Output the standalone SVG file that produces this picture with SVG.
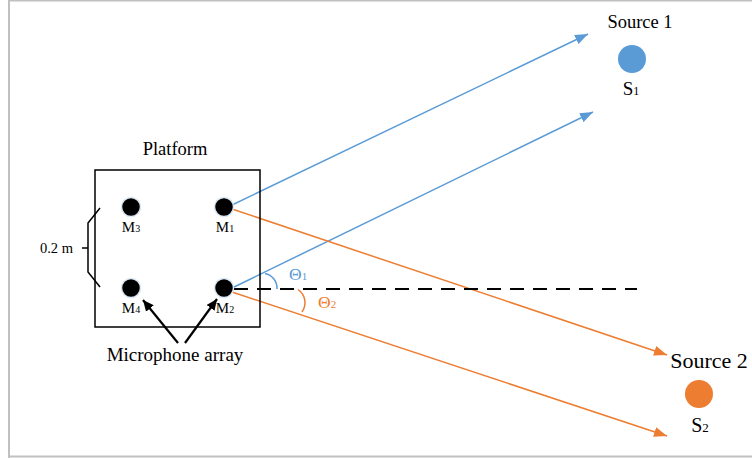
<svg xmlns="http://www.w3.org/2000/svg" width="752" height="458" viewBox="0 0 752 458">
<style>
.t{font-family:"Liberation Serif","Times New Roman",serif;fill:#000}
.blue{stroke:#5B9BD5;stroke-width:1.5;fill:none}
.orange{stroke:#ED7D31;stroke-width:1.5;fill:none}
.blk{stroke:#000;fill:none}
.mic{fill:#000;stroke:#dce8f5;stroke-width:1.5}
</style>
<defs>
<marker id="ab" markerUnits="userSpaceOnUse" markerWidth="14" markerHeight="10" refX="13" refY="5" orient="auto"><path d="M0,0 L13,5 L0,10 Z" fill="#5B9BD5"/></marker>
<marker id="ao" markerUnits="userSpaceOnUse" markerWidth="14" markerHeight="10" refX="13" refY="5" orient="auto"><path d="M0,0 L13,5 L0,10 Z" fill="#ED7D31"/></marker>
<marker id="ak" markerUnits="userSpaceOnUse" markerWidth="12" markerHeight="10" refX="11" refY="5" orient="auto"><path d="M0,0 L11,5 L0,10 Z" fill="#000"/></marker>
</defs>
<rect width="752" height="458" fill="#fff"/>
<g id="frame" stroke="#c0c0c0" stroke-width="2" fill="none">
<line x1="9" y1="0" x2="9" y2="458"/>
<line x1="8" y1="0.5" x2="752" y2="0.5"/>
<line x1="8" y1="456.5" x2="752" y2="456.5"/>
</g>
<g id="connectors">
<line class="blue" x1="232" y1="205" x2="588" y2="34" marker-end="url(#ab)"/>
<line class="blue" x1="232" y1="288" x2="593" y2="112" marker-end="url(#ab)"/>
<line class="orange" x1="232" y1="209" x2="667" y2="355" marker-end="url(#ao)"/>
<line class="orange" x1="232" y1="292" x2="667" y2="436" marker-end="url(#ao)"/>
<line class="blk" x1="234" y1="289" x2="637" y2="289" stroke-width="2" stroke-dasharray="14 9"/>
<path class="blue" d="M265,273.5 A15,15 0 0 1 277,289" stroke-width="2"/>
<path class="orange" d="M298,289.5 A16,16 0 0 1 302,312" stroke-width="2"/>
<line class="blk" x1="178" y1="343" x2="143" y2="300" stroke-width="2.2" marker-end="url(#ak)"/>
<line class="blk" x1="185" y1="343" x2="217" y2="299" stroke-width="2.2" marker-end="url(#ak)"/>
<path class="blk" d="M100,208 L88,223 L88,272 L100,287 M82,248 L88,248" stroke-width="1.5"/>
</g>
<g id="platform">
<rect x="95" y="170" width="165" height="157" fill="none" stroke="#000" stroke-width="1.5"/>
<text class="t" x="175" y="155" font-size="18.5" text-anchor="middle">Platform</text>
</g>
<g id="m3"><circle class="mic" cx="131" cy="207" r="9.5"/><text class="t" x="131" y="231.5" text-anchor="middle" font-size="15">M<tspan font-size="10">3</tspan></text></g>
<g id="m1"><circle class="mic" cx="224" cy="207" r="9.5"/><text class="t" x="225" y="231.5" text-anchor="middle" font-size="15">M<tspan font-size="10">1</tspan></text></g>
<g id="m4"><circle class="mic" cx="131" cy="288" r="9.5"/><text class="t" x="131" y="313" text-anchor="middle" font-size="15">M<tspan font-size="10">4</tspan></text></g>
<g id="m2"><circle class="mic" cx="224" cy="288" r="9.5"/><text class="t" x="225" y="313" text-anchor="middle" font-size="15">M<tspan font-size="10">2</tspan></text></g>
<g id="dist"><text class="t" x="73" y="253" text-anchor="end" font-size="14.5">0.2 m</text></g>
<g id="array-label"><text class="t" x="175" y="361" text-anchor="middle" font-size="19">Microphone array</text></g>
<g id="theta1"><text class="t" x="289" y="280" font-size="17.5" style="fill:#5B9BD5">Θ<tspan font-size="11">1</tspan></text></g>
<g id="theta2"><text class="t" x="318" y="308" font-size="17.5" style="fill:#ED7D31">Θ<tspan font-size="11">2</tspan></text></g>
<g id="source1">
<text class="t" x="640" y="28" text-anchor="middle" font-size="18.5">Source 1</text>
<circle cx="632" cy="59" r="14" fill="#5B9BD5"/>
<text class="t" x="631" y="95" text-anchor="middle" font-size="19">S<tspan font-size="12">1</tspan></text>
</g>
<g id="source2">
<text class="t" x="709" y="368" text-anchor="middle" font-size="22">Source 2</text>
<circle cx="699" cy="394" r="14" fill="#ED7D31"/>
<text class="t" x="700" y="432" text-anchor="middle" font-size="20">S<tspan font-size="13">2</tspan></text>
</g>
</svg>
